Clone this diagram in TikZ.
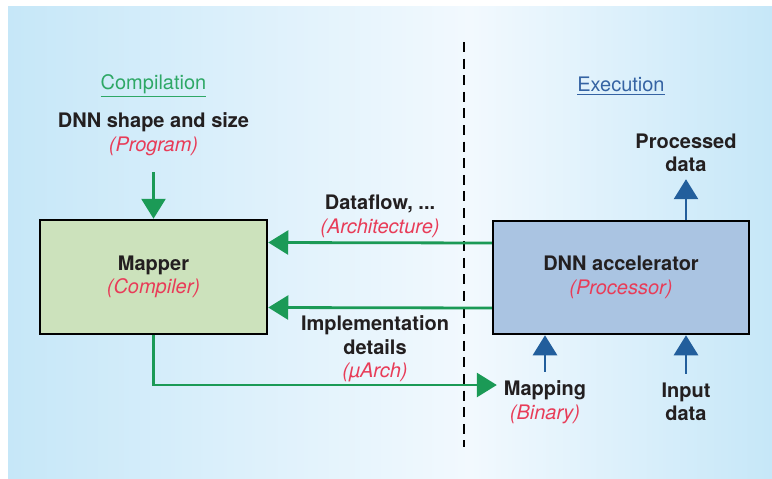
\documentclass[tikz,border=0pt]{standalone}
\usepackage{fontspec}
\setmainfont{TeX Gyre Heros}
\usetikzlibrary{arrows.meta,positioning,calc,backgrounds}
\definecolor{fgGreen}{HTML}{1B9A56}
\definecolor{fgGreenT}{HTML}{2EA866}
\definecolor{fgBlue}{HTML}{225E9C}
\definecolor{fgBlueT}{HTML}{3563A3}
\definecolor{fgRed}{HTML}{E83C58}
\definecolor{fgText}{HTML}{231F20}
\definecolor{mapFill}{HTML}{CCE2BC}
\definecolor{accFill}{HTML}{AAC4E2}
\definecolor{bgEdge}{HTML}{C6E7F8}
\definecolor{bgMid}{HTML}{F2F9FE}
\newcommand{\lblsub}[1]{{\color{fgRed}\mdseries\itshape(#1)}}

\begin{document}
\begin{tikzpicture}[
  x=0.5pt, y=-0.5pt,
  font=\fontsize{10}{11.75}\selectfont,
  box/.style   = {draw=black, line width=1.25pt, align=center, text=fgText,
                  font=\fontsize{10}{11.75}\selectfont\bfseries, inner sep=0pt},
  mbox/.style  = {box, fill=mapFill, minimum width=113.5pt, minimum height=57pt},
  abox/.style  = {box, fill=accFill, minimum width=128pt, minimum height=56.5pt},
  lbl/.style   = {align=center, text=fgText,
                  font=\fontsize{10}{11.75}\selectfont\bfseries},
  ttl/.style   = {font=\fontsize{10}{12}\selectfont},
  garr/.style  = {-{Triangle[length=10pt,width=12pt]}, line width=1.4pt, draw=fgGreen},
  barr/.style  = {-{Triangle[length=10pt,width=12pt]}, line width=1.4pt, draw=fgBlue},
]

%── Bounding box and shaded panel ───────────────────────────────────────────
\useasboundingbox (0,0) rectangle (772,478);
\fill[white] (0,0) rectangle (772,478);
\shade[left color=bgEdge, right color=bgMid] (8,6) rectangle (470,478);
\shade[left color=bgMid, right color=bgEdge] (470,6) rectangle (772,478);

%── Compile / execute divider ────────────────────────────────────────────────
\coordinate (dvtop) at (463.5,42);
\coordinate (dvbot) at (463.5,447);
\draw[line width=1pt, dash pattern=on 5pt off 3.3pt] (dvtop) -- (dvbot);

%── Titles ───────────────────────────────────────────────────────────────────
\node[ttl, text=fgGreenT] (comp) at (153.5,86) {\underline{Compilation}};
\node[ttl, text=fgBlueT]  (exec) at (621,86)   {\underline{Execution}};

%── Main boxes ───────────────────────────────────────────────────────────────
\node[mbox] (map) at (153.5,277)  {Mapper\\\lblsub{Compiler}};
\node[abox] (acc) at (621,277.5)  {DNN accelerator\\\lblsub{Processor}};

%── Inputs and outputs ───────────────────────────────────────────────────────
\node[lbl] (prog) at (153.5,134) {DNN shape and size\\\lblsub{Program}};
\node[lbl] (proc) at (686,153)   {Processed\\data};
\node[lbl] (bin)  at (545,402)   {Mapping\\\lblsub{Binary}};
\node[lbl] (inp)  at (686,402)   {Input\\data};

\draw[garr, shorten <=5pt] (prog.south) -- (prog.south |- map.north);
\draw[barr] (acc.north -| proc.south) -- (proc.south);
\draw[barr, shorten <=1pt] (bin.north) -- (bin.north |- acc.south);
\draw[barr, shorten <=1pt] (inp.north) -- (inp.north |- acc.south);

%── Feedback from accelerator to mapper ─────────────────────────────────────
\draw[garr] ([yshift=17.25pt]acc.west) -- ([yshift=17.25pt]map.east)
    node[lbl, midway, above, yshift=-1.5pt] {Dataflow, ...\\\lblsub{Architecture}};
\draw[garr] ([yshift=-15.25pt]acc.west) -- ([yshift=-15.25pt]map.east)
    node[lbl, midway, below, xshift=-2.5pt]
    {Implementation\\details\\\lblsub{\textmu Arch}};

%── Mapping to accelerator ──────────────────────────────────────────────────
\draw[garr] (map.south) |- ([yshift=8.5pt]bin.west);

\end{tikzpicture}
\end{document}
